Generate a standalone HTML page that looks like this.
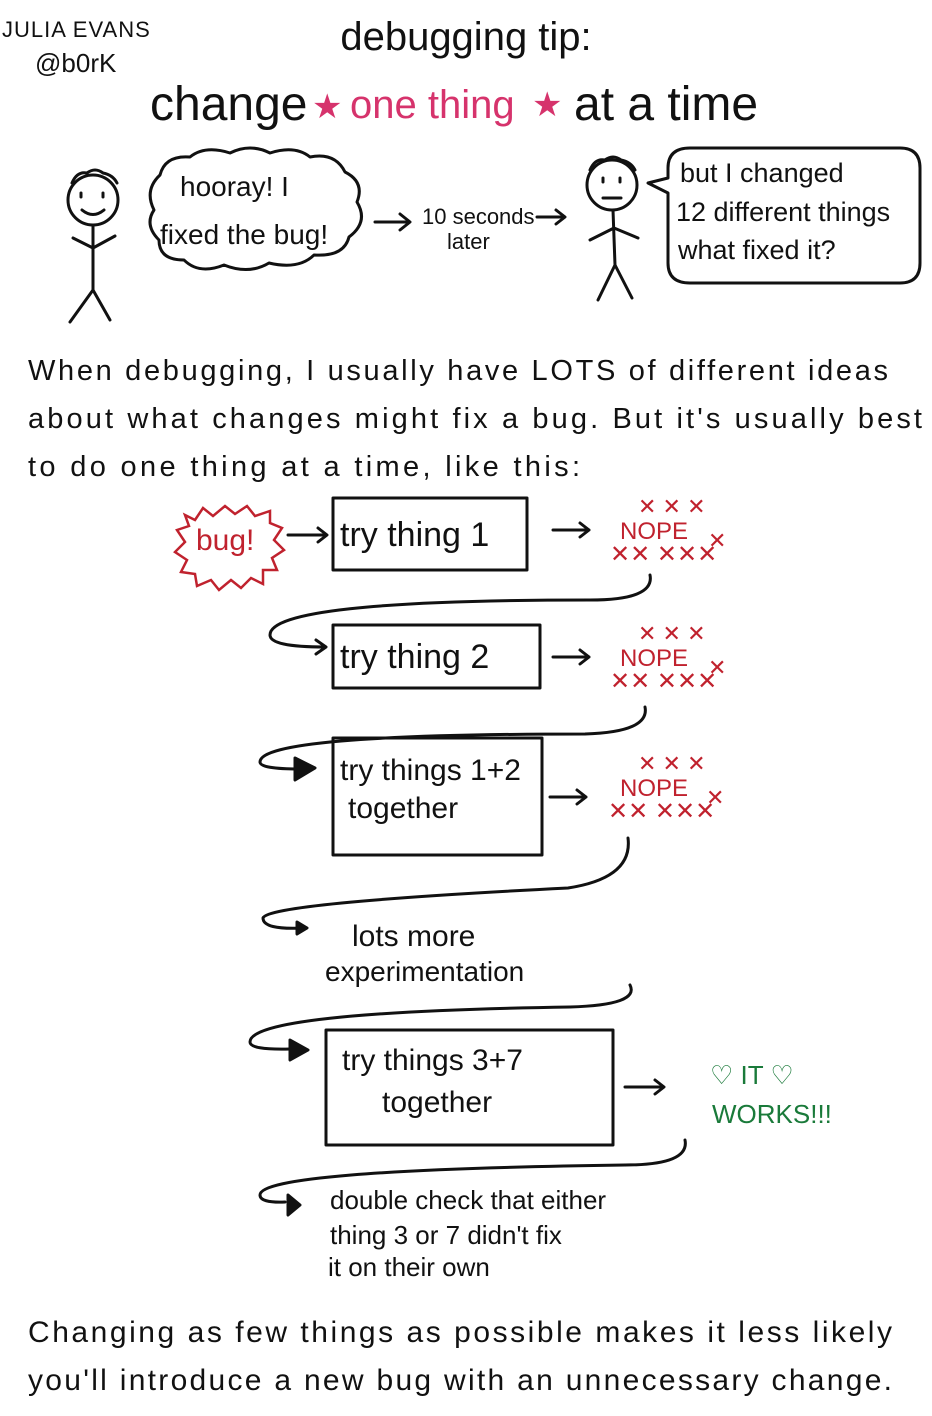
<!DOCTYPE html>
<html><head><meta charset="utf-8"><style>
html,body{margin:0;padding:0;background:#fff;}
svg{display:block}
text{font-family:"Liberation Sans",sans-serif;fill:#111}
text.r{fill:#c0222e}
text.p{fill:#d6336c}
text.g{fill:#1a7a3a}
</style></head><body>
<svg width="932" height="1416" viewBox="0 0 932 1416" xmlns="http://www.w3.org/2000/svg">
<g fill="none" stroke="#111" stroke-width="3" stroke-linecap="round" stroke-linejoin="round">
<circle cx="93" cy="200" r="25"/>
<path d="M81 193v4M103 193v4M82 210q11 9 22 0"/>
<path d="M72 183q5-12 15-10q8-6 16 0q10 2 14 10"/>
<path d="M93 225v65M93 290l-23 32M93 290l17 30M93 248l-20-10M93 248l22-12"/>
<path d="M160 175q5-20 30-18q15-12 40-4q20-10 40 0q25-8 40 4q25-5 35 15q20 10 12 30q12 20-8 35q-5 20-35 18q-15 15-45 8q-20 12-45 2q-25 10-40-5q-25 0-25-20q-15-15 -5-30q-10-20 6-35z"/>
<path d="M375 222h34M400 214l10 8-10 8"/>
<path d="M537 217h27M556 210l9 7-9 7"/>
<circle cx="612" cy="185" r="25"/>
<path d="M603 178v4M620 178v4M603 198h18"/>
<path d="M590 170q5-12 15-10q8-6 16 0q10 2 14 10"/>
<path d="M613 210l2 55M615 265l-17 35M615 265l17 33M614 228l-24 12M614 228l24 10"/>
<path d="M690 148h210q20 0 20 20v95q0 20-20 20h-210q-22 0-22-20v-70l-20-10 20-5v-10q0-20 22-20z"/>
<rect x="333" y="498" width="194" height="72"/>
<rect x="333" y="625" width="207" height="63"/>
<rect x="333" y="738" width="209" height="117"/>
<rect x="326" y="1030" width="287" height="115"/>
<path d="M288 535h38M318 528l9 7-9 7"/>
<path d="M553 530h36M580 523l9 7-9 7"/>
<path d="M553 657h36M580 650l9 7-9 7"/>
<path d="M550 797h36M577 790l9 7-9 7"/>
<path d="M625 1087h38M655 1080l9 7-9 7"/>
<path d="M650 575q5 25-60 25q-320 0-320 35q0 12 55 12M316 640l10 7-10 7"/>
<path d="M645 707q5 25-60 27q-325 0-325 28q0 7 40 7"/>
<path d="M295 758l20 10-20 12z" fill="#111"/>
<path d="M628 838q5 40-60 50q-300 15-305 30q0 12 40 10"/>
<path d="M297 922l10 6-10 6z" fill="#111"/>
<path d="M630 985q10 20-60 22q-320 5-320 35q0 8 40 7"/>
<path d="M290 1040l18 10-18 10z" fill="#111"/>
<path d="M685 1140q5 25-60 25q-365 5-365 30q0 8 25 7"/>
<path d="M288 1195l12 10-12 10z" fill="#111"/>
</g>
<path d="M185 515l10 5 8-12 10 8 12-10 10 8 12-8 8 10 15-5 0 12 12 5-8 12 10 10-12 8 5 12-14 0 0 14-12-6-10 10-10-8-12 10-8-10-14 6-2-12-14-2 6-12-12-8 10-10-8-12 12-4z" fill="none" stroke="#c0222e" stroke-width="2.5"/>
<text x="2" y="37" font-size="22" letter-spacing="1">JULIA EVANS</text>
<text x="35" y="72" font-size="26">@b0rK</text>
<text x="466" y="50" font-size="40" text-anchor="middle">debugging tip:</text>
<text x="150" y="120" font-size="48">change</text>
<text x="312" y="118" font-size="34" class="p">★</text>
<text x="350" y="118" font-size="40" class="p">one thing</text>
<text x="532" y="116" font-size="34" class="p">★</text>
<text x="574" y="120" font-size="48">at a time</text>
<text x="180" y="196" font-size="28">hooray! I</text>
<text x="160" y="244" font-size="28">fixed the bug!</text>
<text x="422" y="224" font-size="22">10 seconds</text>
<text x="447" y="249" font-size="22">later</text>
<text x="680" y="182" font-size="27">but I changed</text>
<text x="676" y="221" font-size="27">12 different things</text>
<text x="678" y="259" font-size="27">what fixed it?</text>
<text x="28" y="380" font-size="29" textLength="860">When debugging, I usually have LOTS of different ideas</text>
<text x="28" y="428" font-size="29" textLength="894">about what changes might fix a bug. But it's usually best</text>
<text x="28" y="476" font-size="29" textLength="552">to do one thing at a time, like this:</text>
<text x="196" y="550" font-size="30" class="r">bug!</text>
<text x="340" y="546" font-size="34">try thing 1</text>
<text x="340" y="668" font-size="34">try thing 2</text>
<text x="340" y="780" font-size="30">try things 1+2</text>
<text x="348" y="818" font-size="30">together</text>
<text x="352" y="946" font-size="30">lots more</text>
<text x="325" y="981" font-size="28">experimentation</text>
<text x="342" y="1070" font-size="30">try things 3+7</text>
<text x="382" y="1112" font-size="30">together</text>
<text x="330" y="1209" font-size="26">double check that either</text>
<text x="330" y="1244" font-size="26">thing 3 or 7 didn't fix</text>
<text x="328" y="1276" font-size="26">it on their own</text>
<text x="620" y="539" font-size="24" class="r">NOPE</text><text x="610" y="562" font-size="24" class="r">✕✕ ✕✕✕</text><text x="638" y="514" font-size="22" class="r">✕ ✕ ✕</text><text x="708" y="548" font-size="22" class="r">✕</text>
<text x="620" y="666" font-size="24" class="r">NOPE</text><text x="610" y="689" font-size="24" class="r">✕✕ ✕✕✕</text><text x="638" y="641" font-size="22" class="r">✕ ✕ ✕</text><text x="708" y="675" font-size="22" class="r">✕</text>
<text x="620" y="796" font-size="24" class="r">NOPE</text><text x="608" y="819" font-size="24" class="r">✕✕ ✕✕✕</text><text x="638" y="771" font-size="22" class="r">✕ ✕ ✕</text><text x="706" y="805" font-size="22" class="r">✕</text>
<text x="710" y="1084" font-size="26" class="g">♡ IT ♡</text>
<text x="712" y="1123" font-size="26" class="g">WORKS!!!</text>
<text x="28" y="1342" font-size="30" textLength="864">Changing as few things as possible makes it less likely</text>
<text x="28" y="1390" font-size="30" textLength="864">you'll introduce a new bug with an unnecessary change.</text>
</svg>
</body></html>
